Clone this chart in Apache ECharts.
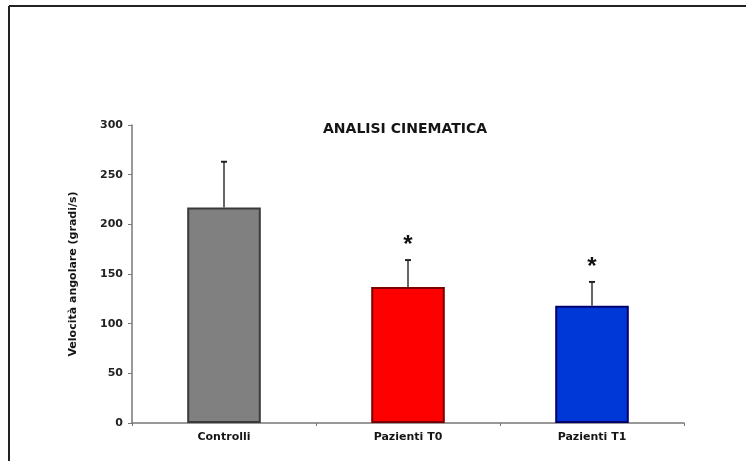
<!DOCTYPE html>
<html>
<head>
<meta charset="utf-8">
<script src="https://cdn.jsdelivr.net/npm/echarts@6/dist/echarts.min.js"></script>
<style>
  html, body { margin: 0; padding: 0; background: #fff; }
  #chart { width: 746px; height: 461px; }
</style>
</head>
<body>
<div id="chart"></div>
<script>
// Angular velocity by group, with upper error bars
const categories = ['Controlli', 'Pazienti T0', 'Pazienti T1'];
const means = [217, 137, 118];
const errorTops = [263, 164, 142];
const significance = ['', '*', '*'];
const yTicks = [0, 50, 100, 150, 200, 250, 300];

const barFills = ['#808080', '#FF0000', '#0038D8'];
const barBorders = ['#3a3a3a', '#7a0000', '#00006e'];

const FONT = '"DejaVu Sans", Verdana, sans-serif';

const chart = echarts.init(document.getElementById('chart'));

const errorData = categories.map((c, i) => [i, means[i], errorTops[i], significance[i]]);

chart.setOption({
  animation: false,
  title: {
    text: 'ANALISI CINEMATICA',
    left: 400,
    top: 117,
    textAlign: 'center',
    textStyle: { fontFamily: FONT, fontSize: 14, fontWeight: 'bold', color: '#151515' }
  },
  graphic: [
    { type: 'line', shape: { x1: 9, y1: 6, x2: 746, y2: 6 }, style: { stroke: '#222', lineWidth: 2 } },
    { type: 'line', shape: { x1: 9, y1: 6, x2: 9, y2: 461 }, style: { stroke: '#222', lineWidth: 2 } }
  ],
  grid: { left: 132, right: 62, top: 125, bottom: 38, containLabel: false },
  xAxis: {
    type: 'category',
    data: categories,
    axisLine: { lineStyle: { color: '#777', width: 1.5 } },
    axisTick: { show: true, alignWithLabel: false, length: 3, lineStyle: { color: '#777' } },
    axisLabel: { fontFamily: FONT, fontSize: 11, fontWeight: 'bold', color: '#151515', margin: 9 }
  },
  yAxis: {
    type: 'value',
    min: 0,
    max: 300,
    interval: 50,
    name: 'Velocità angolare (gradi/s)',
    nameLocation: 'middle',
    nameGap: 53,
    nameRotate: 90,
    nameTextStyle: { fontFamily: FONT, fontSize: 11, fontWeight: 'bold', color: '#151515' },
    axisLine: { show: true, lineStyle: { color: '#777', width: 1.5 } },
    axisTick: { show: true, length: 4, lineStyle: { color: '#777' } },
    splitLine: { show: false },
    axisLabel: {
      fontFamily: FONT, fontSize: 11, fontWeight: 'bold', color: '#222', margin: 9,
      formatter: v => yTicks.includes(v) ? String(v) : ''
    }
  },
  series: [
    {
      type: 'bar',
      data: means.map((v, i) => ({
        value: v,
        itemStyle: { color: barFills[i], borderColor: barBorders[i], borderWidth: 2 }
      })),
      barWidth: '40%',
      z: 2
    },
    {
      type: 'custom',
      z: 3,
      data: errorData,
      encode: { x: 0, y: [1, 2] },
      renderItem: function (params, api) {
        const x = api.value(0);
        const base = api.coord([x, api.value(1)]);
        const top = api.coord([x, api.value(2)]);
        const mark = api.value(3);
        const children = [
          { type: 'line', shape: { x1: base[0], y1: base[1], x2: top[0], y2: top[1] }, style: { stroke: '#333', lineWidth: 1.5 } },
          { type: 'line', shape: { x1: top[0] - 3, y1: top[1], x2: top[0] + 3, y2: top[1] }, style: { stroke: '#222', lineWidth: 2 } }
        ];
        if (mark) {
          children.push({
            type: 'text',
            style: {
              text: mark, x: top[0], y: top[1] - 3,
              align: 'center', verticalAlign: 'bottom',
              font: 'bold 24px "Liberation Sans", Arial, sans-serif', fill: '#111'
            }
          });
        }
        return { type: 'group', children: children };
      }
    }
  ]
});
</script>
</body>
</html>
